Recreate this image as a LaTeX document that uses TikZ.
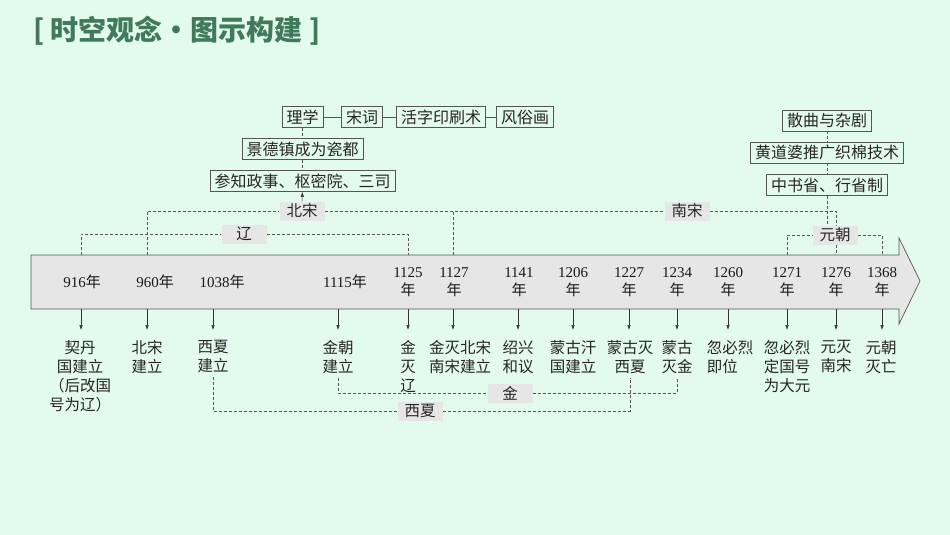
\documentclass[tikz,border=0pt]{standalone}
\usepackage{fontspec}
\setmainfont{Noto Sans CJK SC}
\newfontfamily\numfont{Liberation Serif}
\usetikzlibrary{arrows.meta,backgrounds}
\definecolor{mint}{HTML}{E3FBEC}
\definecolor{titlegreen}{HTML}{3F7B5B}
\definecolor{bargray}{HTML}{E6E6E6}
\definecolor{linegray}{HTML}{555555}

\begin{document}
\begin{tikzpicture}[x=1pt,y=-1pt,
  box/.style={draw=linegray, line width=0.6pt, inner xsep=4.5pt, inner ysep=3pt, text=black!85, font=\fontsize{16}{18}\selectfont},
  era/.style={fill=bargray, minimum width=45pt, minimum height=19pt, inner sep=0pt, text=black!85, font=\fontsize{15.5}{18}\selectfont},
  period/.style={draw=linegray, line width=0.5pt, dash pattern=on 3pt off 2pt},
  link/.style={draw=linegray, line width=0.6pt},
  year/.style={align=center, inner sep=0pt, text=black!90, font=\fontsize{15}{18}\selectfont},
  event/.style={anchor=north, inner sep=0pt, text=black!85, font=\fontsize{15.5}{19}\selectfont},
  tick/.style={-{Latex[length=5pt,width=3.5pt]}, line width=0.5pt, draw=black!80}]
\useasboundingbox (0,0) rectangle (950,535);
\begin{pgfonlayer}{background}
\fill[mint] (0,0) rectangle (950,535);
\end{pgfonlayer}

% title
\node[anchor=west, inner sep=0pt, text=titlegreen, font=\fontsize{28}{30}\selectfont\bfseries] (title) at (33,31) {[ 时空观念•图示构建 ]};

% time bar
\draw[fill=bargray, draw=linegray, line width=0.7pt] (31,255) -- (899,255) -- (899,238) -- (920,281) -- (899,324) -- (899,309) -- (31,309) -- cycle;

% years and events
\foreach \t/\lx/\n/\yt/\ex/\al/\ev in {
  81/82/916/{{\numfont 916}年}/80/center/{契丹\\国建立\\（后改国\\号为辽）},
  147/155/960/{{\numfont 960}年}/147/center/{北宋\\建立},
  213/222/1038/{{\numfont 1038}年}/213/center/{西夏\\建立},
  338/345/1115/{{\numfont 1115}年}/338/center/{金朝\\建立},
  408/408/1125/{{\numfont 1125}\\年}/408/center/{金\\灭\\辽},
  453/454/1127/{{\numfont 1127}\\年}/460/center/{金灭北宋\\南宋建立},
  518/519/1141/{{\numfont 1141}\\年}/518/center/{绍兴\\和议},
  573/573/1206/{{\numfont 1206}\\年}/573/center/{蒙古汗\\国建立},
  629/629/1227/{{\numfont 1227}\\年}/630/center/{蒙古灭\\西夏},
  677/677/1234/{{\numfont 1234}\\年}/677/center/{蒙古\\灭金},
  728/728/1260/{{\numfont 1260}\\年}/730/left/{忽必烈\\即位},
  787/787/1271/{{\numfont 1271}\\年}/787/center/{忽必烈\\定国号\\为大元},
  836/836/1276/{{\numfont 1276}\\年}/836/center/{元灭\\南宋},
  882/882/1368/{{\numfont 1368}\\年}/881/center/{元朝\\灭亡}}
{
  \coordinate (u\n) at (\t,255);
  \coordinate (d\n) at (\t,309);
  \node[year] (y\n) at (\lx,282) {\yt};
  \node[event, align=\al] (e\n) at (\ex,340) {\ev};
  \draw[tick] (d\n) -- ++(0,21);
}

% dynasties
\node[era] (liao) at (244,234) {辽};
\node[era] (beisong) at (302,211) {北宋};
\node[era] (nansong) at (687,211) {南宋};
\node[era] (yuan) at (835,235) {元朝};
\node[era] (jin) at (510,393) {金};
\node[era] (xixia) at (420,411) {西夏};
\begin{pgfonlayer}{background}
\draw[period] (u916) |- (liao) -| (u1125);
\draw[period] (u960) |- (beisong) -- (nansong) -| (u1276);
\draw[period] (u1127) -- (u1127 |- beisong);
\draw[period] (u1271) |- (yuan) -| (u1368);
\draw[period] ([yshift=-4pt]e1115.south) |- (jin) -| ([yshift=-4pt]e1234.south);
\draw[period] ([yshift=-4pt]e1038.south) |- (xixia) -| ([yshift=-4pt]e1227.south);
\end{pgfonlayer}

% song culture
\node[box] (lixue) at (302.5,117) {理学};
\node[box] (songci) at (362,117) {宋词};
\node[box] (huozi) at (441,117) {活字印刷术};
\node[box] (fengsu) at (525,117) {风俗画};
\node[box] (jingde) at (302.5,149) {景德镇成为瓷都};
\node[box] (canzhi) at (302.5,181) {参知政事、枢密院、三司};
\draw[link] (lixue) -- (songci) -- (huozi) -- (fengsu);
\draw[period] (lixue) -- (jingde) -- (canzhi);
\draw[tick] (beisong) -- (canzhi);

% yuan culture
\node[box] (sanqu) at (827,120.5) {散曲与杂剧};
\node[box] (huangdao) at (827,152.5) {黄道婆推广织棉技术};
\node[box] (zhongshu) at (827,185) {中书省、行省制};
\draw[period] (sanqu) -- (huangdao) -- (zhongshu) -- (zhongshu.south |- yuan.north);
\end{tikzpicture}
\end{document}
